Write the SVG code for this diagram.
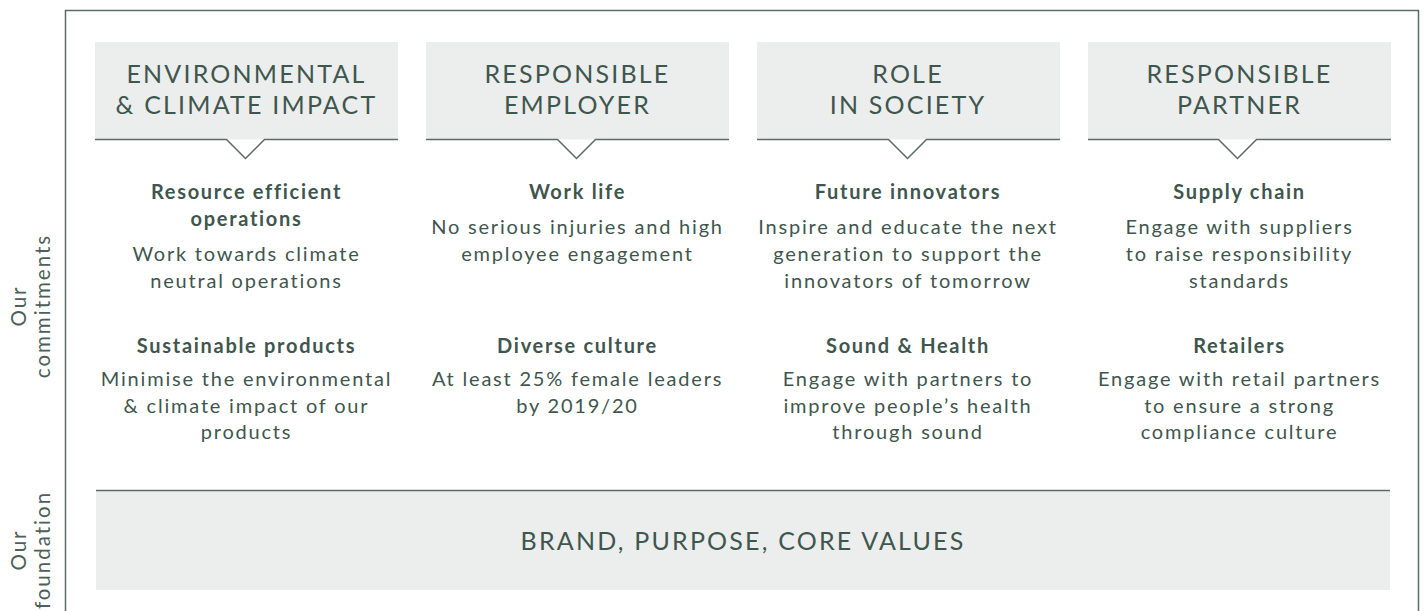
<svg xmlns="http://www.w3.org/2000/svg" width="1424" height="611" viewBox="0 0 1424 611">
  <style>
    .frame { fill: none; stroke: #5b6c65; stroke-width: 1.5; }
    .box { fill: #eceeed; }
    .rule { fill: none; stroke: #5b6c65; stroke-width: 1.5; stroke-linejoin: miter; }
    text { font-family: "Lato", "Liberation Sans", sans-serif; fill: #3f564e; text-anchor: middle; }
    .head { font-size: 25px; font-weight: 400; letter-spacing: 2.2px; }
    .title { font-size: 20px; font-weight: 700; letter-spacing: 1.7px; }
    .body { font-size: 20px; font-weight: 400; letter-spacing: 1.8px; }
    .side { font-size: 20.5px; font-weight: 400; fill: #4d6058; letter-spacing: 2px; }
  </style>

  <!-- outer frame (open at bottom) -->
  <path class="frame" d="M65.5 611 V10.5 H1418.5 V611"/>

  <!-- side labels -->
  <g id="label-commitments">
    <text class="side" transform="translate(26 306) rotate(-90)">Our</text>
    <text class="side" transform="translate(50 306) rotate(-90)">commitments</text>
  </g>
  <g id="label-foundation">
    <text class="side" transform="translate(26 550) rotate(-90)">Our</text>
    <text class="side" transform="translate(50 550) rotate(-90)">foundation</text>
  </g>

  <!-- pillar 1 -->
  <g id="pillar-environment">
    <rect class="box" x="95" y="42" width="303" height="97.5"/>
    <path class="rule" d="M95 139.5 H226.5 L245.5 158.5 L264.5 139.5 H398"/>
    <text class="head" x="246.5" y="83">ENVIRONMENTAL</text>
    <text class="head" x="246.5" y="114">&amp; CLIMATE IMPACT</text>
    <text class="title" x="246.5" y="199">Resource efficient</text>
    <text class="title" x="246.5" y="226">operations</text>
    <text class="body" x="246.5" y="261">Work towards climate</text>
    <text class="body" x="246.5" y="288">neutral operations</text>
    <text class="title" x="246.5" y="353">Sustainable products</text>
    <text class="body" x="246.5" y="386">Minimise the environmental</text>
    <text class="body" x="246.5" y="413">&amp; climate impact of our</text>
    <text class="body" x="246.5" y="439">products</text>
  </g>

  <!-- pillar 2 -->
  <g id="pillar-employer">
    <rect class="box" x="426" y="42" width="303" height="97.5"/>
    <path class="rule" d="M426 139.5 H557.5 L576.5 158.5 L595.5 139.5 H729"/>
    <text class="head" x="577.5" y="83">RESPONSIBLE</text>
    <text class="head" x="577.5" y="114">EMPLOYER</text>
    <text class="title" x="577.5" y="199">Work life</text>
    <text class="body" x="577.5" y="234">No serious injuries and high</text>
    <text class="body" x="577.5" y="261">employee engagement</text>
    <text class="title" x="577.5" y="353">Diverse culture</text>
    <text class="body" x="577.5" y="386">At least 25% female leaders</text>
    <text class="body" x="577.5" y="413">by 2019/20</text>
  </g>

  <!-- pillar 3 -->
  <g id="pillar-society">
    <rect class="box" x="757" y="42" width="303" height="97.5"/>
    <path class="rule" d="M757 139.5 H888.5 L907.5 158.5 L926.5 139.5 H1060"/>
    <text class="head" x="908" y="83">ROLE</text>
    <text class="head" x="908" y="114">IN SOCIETY</text>
    <text class="title" x="908" y="199">Future innovators</text>
    <text class="body" x="908" y="234">Inspire and educate the next</text>
    <text class="body" x="908" y="261">generation to support the</text>
    <text class="body" x="908" y="288">innovators of tomorrow</text>
    <text class="title" x="908" y="353">Sound &amp; Health</text>
    <text class="body" x="908" y="386">Engage with partners to</text>
    <text class="body" x="908" y="413">improve people’s health</text>
    <text class="body" x="908" y="439">through sound</text>
  </g>

  <!-- pillar 4 -->
  <g id="pillar-partner">
    <rect class="box" x="1088" y="42" width="303" height="97.5"/>
    <path class="rule" d="M1088 139.5 H1218.5 L1237.5 158.5 L1256.5 139.5 H1391"/>
    <text class="head" x="1239.5" y="83">RESPONSIBLE</text>
    <text class="head" x="1239.5" y="114">PARTNER</text>
    <text class="title" x="1239.5" y="199">Supply chain</text>
    <text class="body" x="1239.5" y="234">Engage with suppliers</text>
    <text class="body" x="1239.5" y="261">to raise responsibility</text>
    <text class="body" x="1239.5" y="288">standards</text>
    <text class="title" x="1239.5" y="353">Retailers</text>
    <text class="body" x="1239.5" y="386">Engage with retail partners</text>
    <text class="body" x="1239.5" y="413">to ensure a strong</text>
    <text class="body" x="1239.5" y="439">compliance culture</text>
  </g>

  <!-- foundation bar -->
  <g id="foundation">
    <rect class="box" x="96" y="490" width="1294" height="100"/>
    <line class="rule" x1="96" y1="490.5" x2="1390" y2="490.5"/>
    <text class="head" x="743" y="550">BRAND, PURPOSE, CORE VALUES</text>
  </g>
</svg>
